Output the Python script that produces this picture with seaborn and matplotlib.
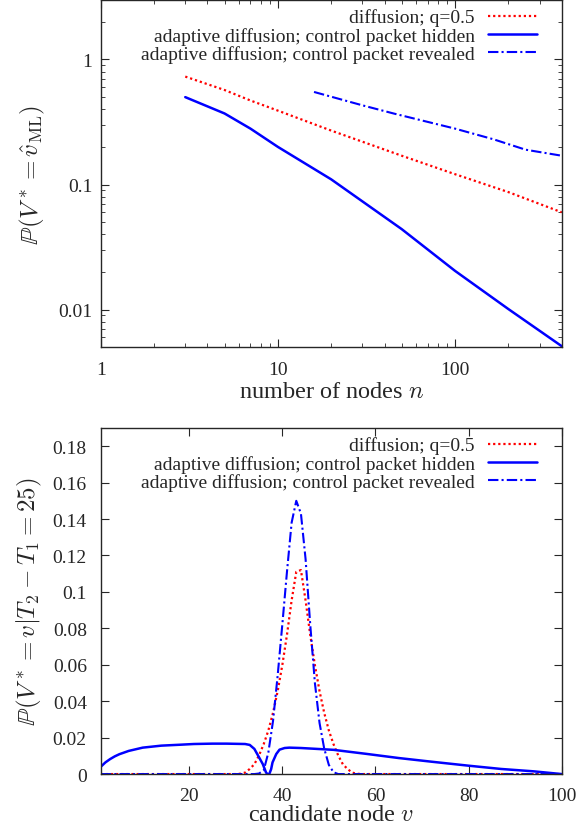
"""Recreate the two-panel source-detection probability figure."""

import matplotlib
matplotlib.use("Agg")
import matplotlib.pyplot as plt
import matplotlib.ticker as mticker
import pandas as pd
import seaborn as sns

# --- top panel: P(V* = v_ML) vs number of nodes (log-log) ---
n_diff = [3, 5, 7, 10, 20, 50, 100, 200, 400]
p_diff = [0.73, 0.57, 0.47, 0.39, 0.27, 0.17, 0.121, 0.087, 0.06]

n_hidden = [3, 5, 7, 10, 20, 50, 100, 200, 400]
p_hidden = [0.50, 0.37, 0.28, 0.20, 0.11, 0.044, 0.0204, 0.0101, 0.0051]

n_revealed = [16, 30, 45, 100, 165, 250, 400]
p_revealed = [0.55, 0.43, 0.37, 0.28, 0.23, 0.19, 0.17]

# --- bottom panel: posterior over candidate nodes given T2 - T1 = 25 ---
v_diff = [1, 30, 31, 32, 33, 34, 35, 36, 37, 38, 39, 40, 41, 42, 43, 44,
          45, 46, 47, 48, 49, 50, 51, 52, 53, 54, 55, 56, 57, 100]
q_diff = [0.0, 0.0, 0.0002, 0.0008, 0.0028, 0.0054, 0.0103, 0.0164, 0.0239,
          0.0336, 0.0455, 0.0598, 0.0764, 0.0953, 0.111, 0.112, 0.0953,
          0.0764, 0.0598, 0.0455, 0.0336, 0.0239, 0.0164, 0.0103, 0.0054,
          0.0028, 0.0008, 0.0002, 0.0, 0.0]

v_hidden = [1, 2, 3, 4, 5, 7, 10, 14, 18, 21, 25, 28, 32, 33, 34, 35, 35.8,
            36.5, 36.8, 37.2, 37.6, 37.9, 38.7, 39.4, 40.5, 41.5, 44, 51, 58,
            65, 72, 80, 87, 94, 100]
q_hidden = [0.004, 0.0064, 0.0082, 0.0097, 0.0109, 0.0127, 0.0145, 0.0156,
            0.0161, 0.0165, 0.0167, 0.0167, 0.0165, 0.016, 0.0138, 0.0092,
            0.0055, 0.0009, 0.0, 0.0, 0.0027, 0.0064, 0.011, 0.0134, 0.0143,
            0.0145, 0.0143, 0.0133, 0.0111, 0.0088, 0.0068, 0.0046, 0.0028,
            0.0015, 0.0]

v_revealed = [1, 34, 35, 36, 37, 38, 39, 40, 41, 42, 43, 44, 45, 46, 47, 48,
              49, 50, 51, 52, 100]
q_revealed = [0.0, 0.0, 0.0003, 0.002, 0.0118, 0.029, 0.054, 0.082, 0.111,
              0.138, 0.150, 0.143, 0.118, 0.082, 0.050, 0.028, 0.014, 0.005,
              0.001, 0.0, 0.0]

LABELS = [
    "diffusion; q=0.5",
    "adaptive diffusion; control packet hidden",
    "adaptive diffusion; control packet revealed",
]
RED = "#ff0000"
BLUE = "#0000ff"

sns.set_style("ticks")
plt.rcParams["font.family"] = ["Liberation Serif", "DejaVu Serif"]
plt.rcParams["mathtext.fontset"] = "cm"
plt.rcParams["xtick.direction"] = "in"
plt.rcParams["ytick.direction"] = "in"
plt.rcParams["xtick.top"] = True
plt.rcParams["ytick.right"] = True

fig = plt.figure(figsize=(5.79, 8.37), dpi=100)
ax1 = fig.add_axes([0.174, 0.584, 0.796, 0.415])
ax2 = fig.add_axes([0.174, 0.074, 0.796, 0.4135])

dot = (0, (1, 1.3))
dashdot = (0, (5, 1.5, 1, 1.5))


def draw(ax, x_lists, y_lists):
    styles = [(RED, dot, 1.6), (BLUE, "-", 1.8), (BLUE, dashdot, 1.5)]
    for x, y, lab, (c, ls, lw) in zip(x_lists, y_lists, LABELS, styles):
        df = pd.DataFrame({"x": x, "y": y})
        sns.lineplot(data=df, x="x", y="y", ax=ax, color=c, linestyle=ls,
                     linewidth=lw, label=lab, estimator=None)
    ax.legend(loc="upper right", bbox_to_anchor=(0.959, 0.992),
              frameon=False, markerfirst=False, fontsize=14,
              handlelength=2.5, labelspacing=0.02, borderaxespad=0,
              borderpad=0.3, handletextpad=0.7)
    for s in ax.spines.values():
        s.set_linewidth(1.0)
    ax.tick_params(which="major", length=6, width=0.8, labelsize=14)
    ax.tick_params(which="minor", length=3, width=0.6)


draw(ax1, [n_diff, n_hidden, n_revealed], [p_diff, p_hidden, p_revealed])
ax1.set_xscale("log")
ax1.set_yscale("log")
ax1.set_xlim(1, 400)
ax1.set_ylim(0.005, 3)
ax1.set_xticks([1, 10, 100])
ax1.set_yticks([0.01, 0.1, 1])
fmt = mticker.FuncFormatter(lambda v, _: f"{v:g}")
ax1.xaxis.set_major_formatter(fmt)
ax1.yaxis.set_major_formatter(fmt)
ax1.xaxis.set_minor_formatter(mticker.NullFormatter())
ax1.yaxis.set_minor_formatter(mticker.NullFormatter())
ax1.tick_params(axis="x", which="major", pad=10)
ax1.tick_params(axis="y", which="major", pad=6)
ax1.set_xlabel("number of nodes $n$", fontsize=17.5, labelpad=2)
ax1.set_ylabel(r"$\mathbb{P}(V^* = \hat{v}_{\rm ML})$", fontsize=18,
               labelpad=8)

draw(ax2, [v_diff, v_hidden, v_revealed], [q_diff, q_hidden, q_revealed])
ax2.set_xlim(1, 100)
ax2.set_ylim(0, 0.19)
ax2.set_xticks([20, 40, 60, 80, 100])
ax2.set_yticks([0, 0.02, 0.04, 0.06, 0.08, 0.1, 0.12, 0.14, 0.16, 0.18])
ax2.yaxis.set_major_formatter(fmt)
ax2.tick_params(axis="x", which="major", pad=9)
ax2.tick_params(axis="y", which="major", pad=10)
ax2.set_xlabel("candidate node $v$", fontsize=17.5, labelpad=0)
ax2.set_ylabel(r"$\mathbb{P}(V^* = v | T_2 - T_1 = 25)$", fontsize=18,
               labelpad=6)

fig.savefig("out.png", dpi=100)
